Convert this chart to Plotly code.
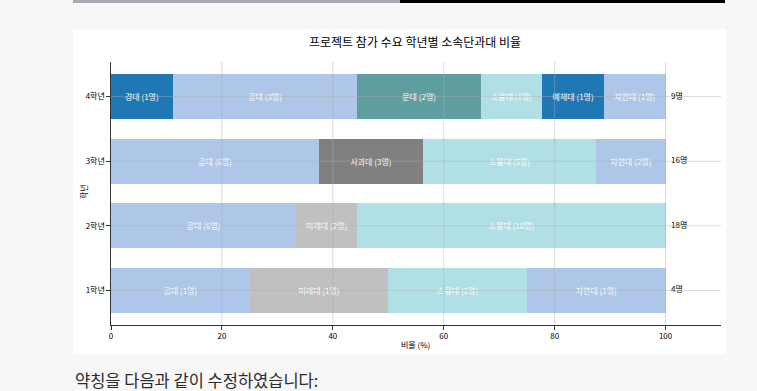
import plotly.graph_objects as go

grades = ["1학년", "2학년", "3학년", "4학년"]
totals = [4, 18, 16, 9]
colleges = ["경대", "공대", "문대", "미래대", "사과대", "소융대", "예체대", "자연대"]
counts = {
    "경대": [0, 0, 0, 1],
    "공대": [1, 6, 6, 3],
    "문대": [0, 0, 0, 2],
    "미래대": [1, 2, 0, 0],
    "사과대": [0, 0, 3, 0],
    "소융대": [1, 10, 5, 1],
    "예체대": [0, 0, 0, 1],
    "자연대": [1, 0, 2, 1],
}
colors = {
    "경대": "#1f77b4",
    "공대": "#aec7e8",
    "문대": "#5f9ea0",
    "미래대": "#c0c0c0",
    "사과대": "#808080",
    "소융대": "#b0e0e6",
    "예체대": "#1f77b4",
    "자연대": "#aec7e8",
}
x_ticks = [0, 20, 40, 60, 80, 100]

FONT = "Noto Sans CJK KR, Noto Sans, sans-serif"
W, H = 757, 391
L, R, T, B = 111, 36, 62, 66
PW, PH = W - L - R, H - T - B


def px(x):
    return (x - L) / PW


def py(y):
    return (H - B - y) / PH


yidx = list(range(len(grades)))
fig = go.Figure()
for c in colleges:
    xs, txt = [], []
    for i, n in enumerate(counts[c]):
        if n > 0:
            xs.append(n / totals[i] * 100)
            txt.append(f"{c} ({n}명)")
        else:
            xs.append(None)
            txt.append("")
    fig.add_trace(go.Bar(
        y=yidx, x=xs, orientation="h", width=0.7, name=c,
        marker=dict(color=colors[c], line=dict(width=0)),
        text=txt, textposition="inside", insidetextanchor="middle",
        textangle=0, insidetextfont=dict(color="white", size=8, family=FONT),
        showlegend=False, hoverinfo="skip",
    ))

fig.add_trace(go.Scatter(
    x=[101] * len(grades), y=yidx, mode="text",
    text=[f"{t}명" for t in totals], textposition="middle right",
    textfont=dict(size=8, color="black", family=FONT),
    showlegend=False, hoverinfo="skip", cliponaxis=False,
))

shapes = []
# page card and top bar
shapes.append(dict(type="rect", xref="paper", yref="paper", x0=px(73), x1=px(726),
                   y0=py(354), y1=py(29), fillcolor="white", line=dict(width=0), layer="below"))
shapes.append(dict(type="rect", xref="paper", yref="paper", x0=px(73), x1=px(400),
                   y0=py(3), y1=py(0), fillcolor="#a9a9b3", line=dict(width=0), layer="below"))
shapes.append(dict(type="rect", xref="paper", yref="paper", x0=px(400), x1=px(725),
                   y0=py(3), y1=py(0), fillcolor="#000000", line=dict(width=0), layer="below"))
# grid above bars
for xv in x_ticks[1:]:
    shapes.append(dict(type="line", xref="x", yref="paper", x0=xv, x1=xv, y0=0, y1=1,
                       line=dict(color="rgba(170,170,170,0.45)", width=1), layer="above"))
for yv in yidx:
    shapes.append(dict(type="line", xref="paper", yref="y", x0=0, x1=1, y0=yv, y1=yv,
                       line=dict(color="rgba(170,170,170,0.45)", width=1), layer="above"))

annotations = [
    dict(text="프로젝트 참가 수요 학년별 소속단과대 비율", xref="paper", yref="paper",
         x=px(415), y=py(41), showarrow=False, xanchor="center", yanchor="middle",
         font=dict(size=12, color="black", family=FONT)),
    dict(text="학년", xref="paper", yref="paper", x=px(83), y=py(192), textangle=-90,
         showarrow=False, xanchor="center", yanchor="middle",
         font=dict(size=8, color="black", family=FONT)),
    dict(text="비율 (%)", xref="paper", yref="paper", x=px(415), y=py(344),
         showarrow=False, xanchor="center", yanchor="middle",
         font=dict(size=8, color="black", family=FONT)),
    dict(text="약칭을 다음과 같이 수정하였습니다:", xref="paper", yref="paper",
         x=px(73), y=py(380), showarrow=False, xanchor="left", yanchor="middle",
         font=dict(size=16.5, color="#2b2b2b", family=FONT)),
]

fig.update_layout(
    width=W, height=H, margin=dict(l=L, r=R, t=T, b=B, pad=0),
    paper_bgcolor="#f7f7f7", plot_bgcolor="white",
    barmode="stack", bargap=0.3,
    font=dict(family=FONT, size=8, color="black"),
    shapes=shapes, annotations=annotations,
    uniformtext=dict(minsize=8, mode="show"),
    xaxis=dict(range=[0, 110], tickvals=x_ticks, showgrid=False, zeroline=False,
               showline=True, linecolor="#333333", linewidth=1.2,
               ticks="outside", ticklen=3.5, tickcolor="#333333",
               tickfont=dict(size=8, color="black")),
    yaxis=dict(range=[-0.535, 3.535], tickvals=yidx, ticktext=grades, showgrid=False,
               zeroline=False, showline=True, linecolor="#333333", linewidth=1.2,
               ticks="outside", ticklen=3.5, tickcolor="#333333",
               tickfont=dict(size=8, color="black")),
)

fig.write_html(
    "out.html",
    config={"displayModeBar": False},
    post_script="document.body.style.margin='0';document.body.style.overflow='hidden';"
                "document.body.style.background='#f7f7f7';",
)
